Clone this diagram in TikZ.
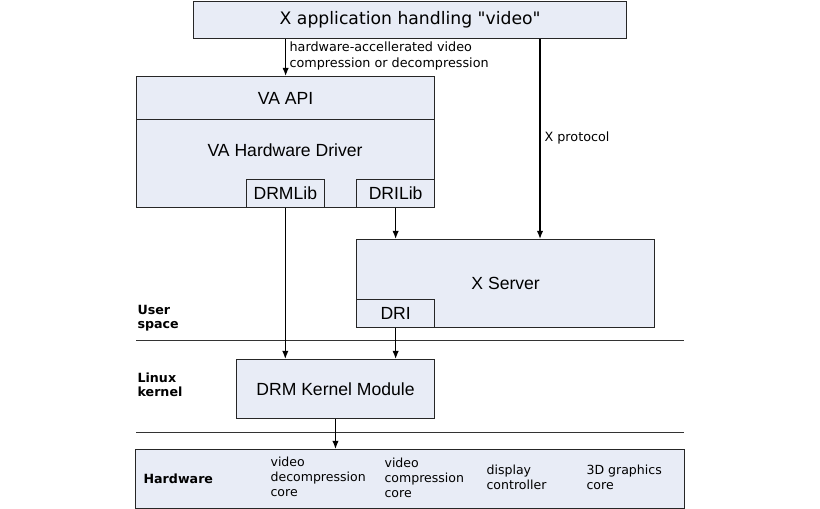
\documentclass[tikz,border=0pt]{standalone}
\usepackage{fontspec}
\setmainfont{DejaVu Sans}
\newfontfamily\arialfont{Liberation Sans}
\newfontfamily\titlefont{DejaVu Sans}[Ligatures=TeXOff]
\usetikzlibrary{arrows.meta}
\definecolor{boxfill}{HTML}{E8ECF6}
\begin{document}
\begin{tikzpicture}[x=0.03cm, y=-0.03cm, line width=1pt,
  box/.style={draw=black!85, fill=boxfill, line width=1.1pt, inner sep=0pt, anchor=north west},
  big/.style={font=\arialfont\fontsize{15}{18}\selectfont},
  note/.style={font=\fontsize{10.9}{13.6}\selectfont, align=left, anchor=west, inner sep=0pt},
  hwtxt/.style={font=\fontsize{10.7}{12.8}\selectfont, align=left, anchor=west, inner sep=0pt},
  layer/.style={font=\bfseries\fontsize{10.8}{12}\selectfont, align=left, anchor=west, inner sep=0pt},
  arr/.style={-{Latex[length=7pt,width=5.5pt]}, line width=1.1pt},
  rule/.style={line width=0.8pt, draw=black!80}]
  \useasboundingbox (0,0) rectangle (820,509);
  % Kästen, linke obere Ecke in Pixeln (y nach unten)
  \node[box, minimum width=12.99cm, minimum height=1.11cm,
        font=\titlefont\fontsize{14.7}{17}\selectfont] (app) at (193,1) {X application handling "video"};
  \node[box, big, minimum width=8.94cm, minimum height=1.29cm] (vaapi) at (136,76) {VA API};
  \node[box, minimum width=8.94cm, minimum height=2.64cm] (vadrv) at (136,119) {};
  \node[big] (vadrvtxt) at (285,150) {VA Hardware Driver};
  \node[box, big, minimum width=2.35cm, minimum height=0.84cm] (drmlib) at (245.5,179) {DRMLib};
  \node[box, big, minimum width=2.34cm, minimum height=0.84cm] (drilib) at (356,179) {DRILib};
  \node[box, big, minimum width=8.94cm, minimum height=2.64cm] (xserver) at (356,239) {X Server};
  \node[box, big, minimum width=2.34cm, minimum height=0.84cm] (dri) at (356,299) {DRI};
  \node[box, big, minimum width=5.96cm, minimum height=1.755cm] (drm) at (235.5,359) {DRM Kernel Module};
  \node[box, minimum width=16.47cm, minimum height=1.755cm] (hw) at (135,449) {};
  % Trennlinien zwischen den Ebenen
  \draw[rule] (136,340) -- (684,340);
  \draw[rule] (136,432) -- (684,432);
  \node[layer] (user) at (137,318) {User\\space};
  \node[layer] (linux) at (137,385) {Linux\\kernel};
  \node[layer] (hwlbl) at (143,479) {Hardware};
  \node[hwtxt] (core1) at (270,477) {video\\decompression\\core};
  \node[hwtxt] (core2) at (384,478) {video\\compression\\core};
  \node[hwtxt] (core3) at (486,477) {display\\controller};
  \node[hwtxt] (core4) at (586,477) {3D graphics\\core};
  % Pfeile
  \coordinate (xp) at (540,0);
  \draw[arr] (app.south -| vaapi.north) -- (vaapi.north);
  \node[note] (hwacc) at (289,56) {hardware-accellerated video\\compression or decompression};
  \draw[arr] (app.south -| xp) -- (xserver.north -| xp);
  \node[note] (xprot) at (544,138) {X protocol};
  \draw[arr] (drilib.south) -- (drilib.south |- xserver.north);
  \draw[arr] (drmlib.south) -- (drmlib.south |- drm.north);
  \draw[arr] (dri.south) -- (dri.south |- drm.north);
  \draw[arr] (drm.south) -- (drm.south |- hw.north);
\end{tikzpicture}
\end{document}
